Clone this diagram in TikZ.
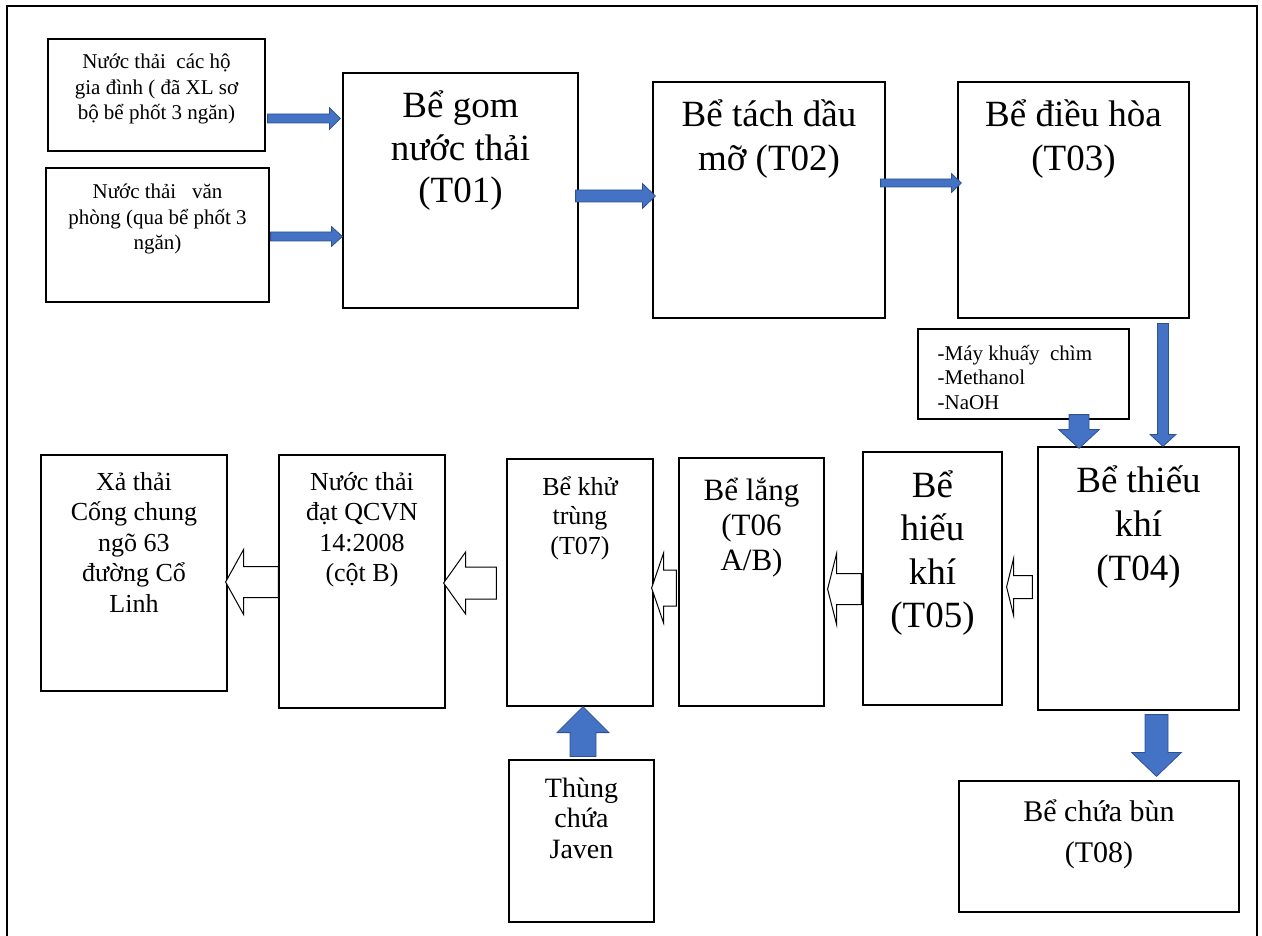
\documentclass[tikz,border=0pt]{standalone}
\usepackage{fontspec}
\setmainfont{Liberation Serif}
\usetikzlibrary{calc}
\definecolor{arrblue}{HTML}{4472C4}
\definecolor{arredge}{HTML}{2F528F}
\newcommand{\fsz}[2]{\fontsize{#1}{#2}\selectfont}
\newcommand{\tlc}[1]{\begin{tabular}[t]{@{}c@{}}#1\end{tabular}}
\newcommand{\tll}[1]{\begin{tabular}[t]{@{}l@{}}#1\end{tabular}}
\newcommand{\tank}[5]{\node[box, minimum width={#4-#2}, minimum height={#5-#3}] (#1) at ({(#2+#4)/2},{(#3+#5)/2}) {};}
\newcommand{\blockarr}[6]{%
  \coordinate (baH) at ($(#3)!#6!(#2)$);
  \draw[#1] ($(#2)!#4!90:(#3)$) -- ($(baH)!#4!90:(#3)$) -- ($(baH)!#5!90:(#3)$) -- (#3) -- ($(baH)!#5!-90:(#3)$) -- ($(baH)!#4!-90:(#3)$) -- ($(#2)!#4!-90:(#3)$) -- cycle;}
\begin{document}
\begin{tikzpicture}[x=1pt,y=-1pt,
  box/.style={draw=black, line width=1.2pt, inner sep=0pt, fill=white},
  txt/.style={inner sep=0pt, anchor=base},
  bluearr/.style={fill=arrblue, draw=arredge, line width=0.8pt, line join=miter},
  hollowarr/.style={fill=white, draw=black, line width=1pt, line join=miter},
  frame/.style={draw=black, line width=1.4pt}]
\useasboundingbox (0,0) rectangle (1262,936);
\draw[frame] (7,940) -- (7,6) -- (1257,6) -- (1257,940);

% boxes
\tank{boxA}{48}{39}{265}{151}
\tank{boxB}{46}{168}{269}{302}
\tank{t01}{343}{73}{578}{308}
\tank{t02}{653}{82}{885}{318}
\tank{t03}{958}{82}{1189}{318}
\tank{chem}{918}{329}{1129}{419}
\tank{t04}{1038}{447}{1239}{710}
\tank{t05}{863}{452}{1002}{705}
\tank{t06}{679}{458}{824}{706}
\tank{t07}{507}{459}{653}{706}
\tank{qcvn}{279}{455}{445}{708}
\tank{xa}{41}{455}{227}{691}
\tank{javen}{509}{760}{654}{922}
\tank{t08}{959}{781}{1239}{912}

% texts
\node[txt, font=\fsz{21}{25.5}] (boxAt) at (boxA.north |- 0,69) {\tlc{Nước thải\ \ các hộ\\gia đình ( đã XL sơ\\bộ bể phốt 3 ngăn)}};
\node[txt, font=\fsz{21}{25.5}] (boxBt) at (boxB.north |- 0,199) {\tlc{Nước thải\ \ \ văn\\phòng (qua bể phốt 3\\ngăn)}};
\node[txt, font=\fsz{37}{42.5}] (t01t) at (t01.north |- 0,118) {\tlc{Bể gom\\nước thải\\(T01)}};
\node[txt, font=\fsz{37}{44}] (t02t) at (t02.north |- 0,127) {\tlc{Bể tách dầu\\mỡ (T02)}};
\node[txt, font=\fsz{37}{44}] (t03t) at (t03.north |- 0,127) {\tlc{Bể điều hòa\\(T03)}};
\node[txt, anchor=base west, font=\fsz{21}{24.5}] (chemt) at ($(chem.west |- 0,360)+(20,0)$) {\tll{-Máy khuấy\ \ chìm\\-Methanol\\-NaOH}};
\node[txt, font=\fsz{37}{44}] (t04t) at (t04.north |- 0,492) {\tlc{Bể thiếu\\khí\\(T04)}};
\node[txt, font=\fsz{37}{43.5}] (t05t) at (t05.north |- 0,497) {\tlc{Bể\\hiếu\\khí\\(T05)}};
\node[txt, font=\fsz{31}{35}] (t06t) at (t06.north |- 0,500) {\tlc{Bể lắng\\(T06\\A/B)}};
\node[txt, font=\fsz{26}{29.5}] (t07t) at (t07.north |- 0,495) {\tlc{Bể khử\\trùng\\(T07)}};
\node[txt, font=\fsz{26}{30.5}] (qcvnt) at (qcvn.north |- 0,490) {\tlc{Nước thải\\đạt QCVN\\14:2008\\(cột B)}};
\node[txt, font=\fsz{26}{30.5}] (xat) at (xa.north |- 0,490) {\tlc{Xả thải\\Cống chung\\ngõ 63\\đường Cổ\\Linh}};
\node[txt, font=\fsz{28}{30.5}] (javent) at (javen.north |- 0,797) {\tlc{Thùng\\chứa\\Javen}};
\node[txt, font=\fsz{30}{41}] (t08t) at (t08.north |- 0,821) {\tlc{Bể chứa bùn\\(T08)}};

% blue arrows
\coordinate (a1s) at ($(boxA.east |- 0,118.5)+(2,0)$);
\coordinate (a1e) at ($(t01.west |- 0,118.5)+(-2,0)$);
\blockarr{bluearr}{a1s}{a1e}{4.5pt}{11pt}{11pt}
\coordinate (a2s) at ($(boxB.east |- 0,236.5)+(1,0)$);
\coordinate (a2e) at ($(t01.west |- 0,236.5)+(0,0)$);
\blockarr{bluearr}{a2s}{a2e}{4.5pt}{10pt}{11pt}
\coordinate (a3s) at ($(t01.east |- 0,196)+(-3,0)$);
\coordinate (a3e) at ($(t02.west |- 0,196)+(3,0)$);
\blockarr{bluearr}{a3s}{a3e}{6pt}{12.5pt}{13pt}
\coordinate (a4s) at ($(t02.east |- 0,183)+(-5,0)$);
\coordinate (a4e) at ($(t03.west |- 0,183)+(4,0)$);
\blockarr{bluearr}{a4s}{a4e}{4pt}{9.5pt}{10pt}
\coordinate (a5s) at ($(t03.south -| 1163,0)+(0,5)$);
\coordinate (a5e) at (t04.north -| 1163,0);
\blockarr{bluearr}{a5s}{a5e}{5.5pt}{13pt}{12pt}
\coordinate (a6s) at ($(chem.south -| 1079,0)+(0,-5)$);
\coordinate (a6e) at ($(t04.north -| 1079,0)+(0,2)$);
\blockarr{bluearr}{a6s}{a6e}{10pt}{20.5pt}{19pt}
\coordinate (a7s) at ($(t04.south -| 1156.5,0)+(0,4)$);
\coordinate (a7e) at ($(t08.north -| 1156.5,0)+(0,-4)$);
\blockarr{bluearr}{a7s}{a7e}{11.5pt}{25pt}{24pt}
\coordinate (a8s) at ($(javen.north -| 583,0)+(0,-3)$);
\coordinate (a8e) at (t07.south -| 583,0);
\blockarr{bluearr}{a8s}{a8e}{13pt}{26pt}{26pt}

% hollow arrows
\coordinate (h1s) at ($(t04.west |- 0,587)+(-5,0)$);
\coordinate (h1e) at ($(t05.east |- 0,587)+(4,0)$);
\blockarr{hollowarr}{h1s}{h1e}{11.5pt}{28.5pt}{7pt}
\coordinate (h2s) at ($(t05.west |- 0,589)+(-1,0)$);
\coordinate (h2e) at ($(t06.east |- 0,589)+(3,0)$);
\blockarr{hollowarr}{h2s}{h2e}{15.5pt}{35.5pt}{9pt}
\coordinate (h3s) at ($(t06.west |- 0,588)+(-2,0)$);
\coordinate (h3e) at ($(t07.east |- 0,588)+(-2,0)$);
\blockarr{hollowarr}{h3s}{h3e}{18pt}{35pt}{12pt}
\coordinate (h4s) at ($(t07.west |- 0,583)+(-10,0)$);
\coordinate (h4e) at ($(qcvn.east |- 0,583)+(-2,0)$);
\blockarr{hollowarr}{h4s}{h4e}{16pt}{31pt}{22pt}
\coordinate (h5s) at (qcvn.west |- 0,582);
\coordinate (h5e) at ($(xa.east |- 0,582)+(-2,0)$);
\blockarr{hollowarr}{h5s}{h5e}{15.5pt}{32.5pt}{18pt}
\end{tikzpicture}
\end{document}
